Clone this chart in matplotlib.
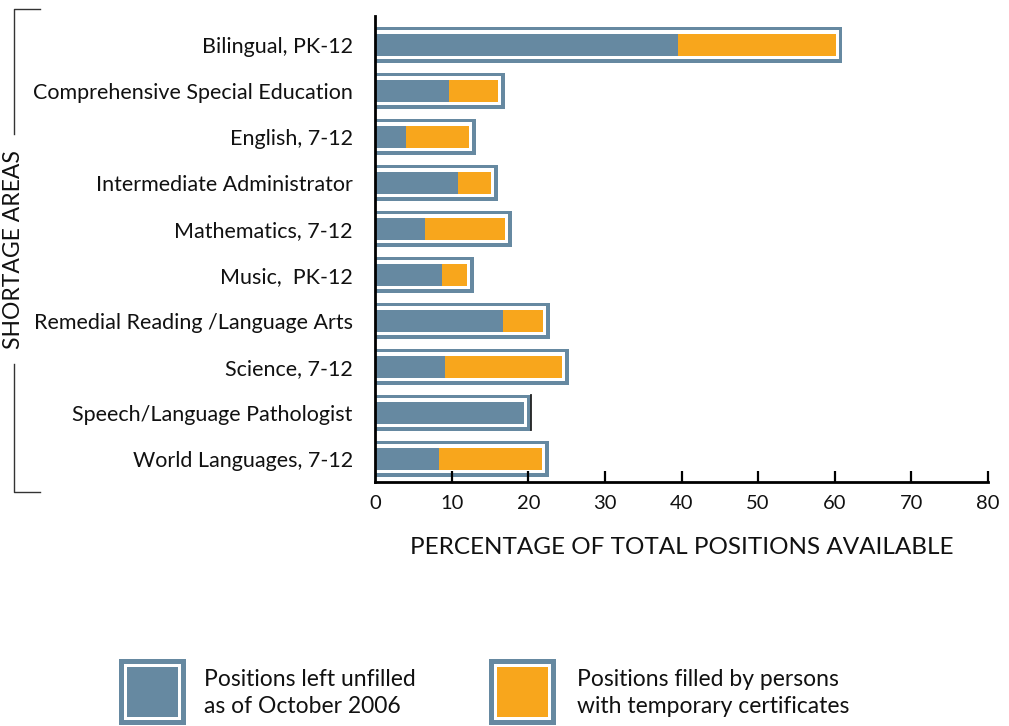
import matplotlib
matplotlib.use("Agg")
import matplotlib.pyplot as plt
from matplotlib.lines import Line2D
from matplotlib.patches import Rectangle

plt.rcParams['font.family'] = ['Lato', 'DejaVu Sans']

# data
areas = ['Bilingual, PK-12', 'Comprehensive Special Education', 'English, 7-12',
         'Intermediate Administrator', 'Mathematics, 7-12', 'Music,  PK-12',
         'Remedial Reading /Language Arts', 'Science, 7-12',
         'Speech/Language Pathologist', 'World Languages, 7-12']
unfilled = [39.6, 9.7, 4.0, 10.8, 6.5, 8.7, 16.7, 9.1, 19.5, 8.4]
temporary = [20.5, 6.3, 8.3, 4.3, 10.5, 3.3, 5.2, 15.3, 0.0, 13.4]
xticks = [0, 10, 20, 30, 40, 50, 60, 70, 80]

blue = '#6689a1'
orange = '#f8a61c'

fig = plt.figure(figsize=(10.09, 7.26), dpi=100)
ax = fig.add_axes([375 / 1009, 1 - 481.5 / 726, (988 - 375) / 1009, (481.5 - 16) / 726])

for i, (u, t) in enumerate(zip(unfilled, temporary)):
    tot = u + t
    ax.barh(i, tot + 0.91, height=0.78, color=blue, linewidth=0)
    ax.barh(i, tot + 0.39, height=0.63, color='white', linewidth=0)
    ax.barh(i, u, height=0.48, color=blue, linewidth=0)
    if t > 0:
        ax.barh(i, t, left=u, height=0.48, color=orange, linewidth=0)
    else:
        # odd dark end on the speech bar
        ax.plot([tot + 0.85] * 2, [i - 0.38, i + 0.38], color='#222222', lw=1.3)

ax.set_xlim(0, 80)
ax.set_ylim(9.49, -0.63)
ax.set_yticks(range(len(areas)))
ax.set_yticklabels(areas, fontsize=15.5, color='#111111')
ax.tick_params(axis='y', length=0, pad=16)
ax.set_xticks(xticks)
ax.set_xticklabels([str(x) for x in xticks], fontsize=14.5, color='#111111')
ax.tick_params(axis='x', direction='in', length=8, width=1.6, pad=10)
ax.xaxis.get_major_ticks()[0].tick1line.set_visible(False)
for s in ['top', 'right']:
    ax.spines[s].set_visible(False)
for s in ['left', 'bottom']:
    ax.spines[s].set_linewidth(2)
ax.set_xlabel('PERCENTAGE OF TOTAL POSITIONS AVAILABLE', fontsize=17.5,
              labelpad=18, color='#111111')

# bracket on the left
bx = 14 / 1009
def fy(p):
    return 1 - p / 726
fig.add_artist(Line2D([40 / 1009, bx, bx], [fy(9), fy(9), fy(134)], color='#333333', lw=1))
fig.add_artist(Line2D([40 / 1009, bx, bx], [fy(492), fy(492), fy(364)], color='#333333', lw=1))
fig.text(bx, fy(250), 'SHORTAGE AREAS', rotation=90, ha='center', va='center',
         fontsize=16.5, color='#111111')

# legend
def legend_box(x0, color):
    w, h = 67, 66
    y0 = 659
    fig.add_artist(Rectangle((x0 / 1009, fy(y0 + h)), w / 1009, h / 726,
                             transform=fig.transFigure, color=blue, lw=0))
    fig.add_artist(Rectangle(((x0 + 5) / 1009, fy(y0 + h - 5)), (w - 10) / 1009, (h - 10) / 726,
                             transform=fig.transFigure, color='white', lw=0))
    fig.add_artist(Rectangle(((x0 + 8) / 1009, fy(y0 + h - 8)), (w - 16) / 1009, (h - 16) / 726,
                             transform=fig.transFigure, color=color, lw=0))

legend_box(119, blue)
legend_box(489, orange)
fig.text(204 / 1009, fy(693), 'Positions left unfilled\nas of October 2006',
         fontsize=16.5, va='center', ha='left', linespacing=1.35, color='#111111')
fig.text(577 / 1009, fy(693), 'Positions filled by persons\nwith temporary certificates',
         fontsize=16.5, va='center', ha='left', linespacing=1.35, color='#111111')

fig.savefig('out.png', dpi=100)
